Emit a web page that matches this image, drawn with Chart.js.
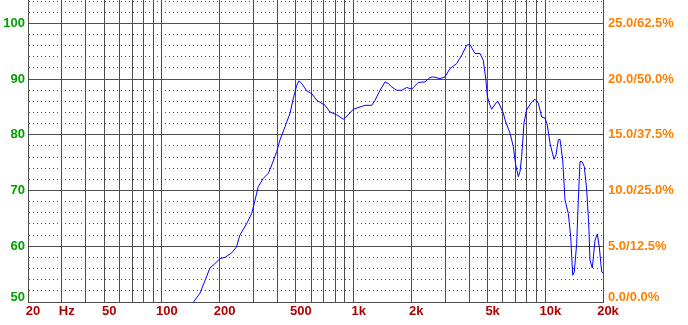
<!DOCTYPE html>
<html>
<head>
<meta charset="utf-8">
<script src="https://cdn.jsdelivr.net/npm/chart.js@4.4.0/dist/chart.umd.min.js"></script>
<style>
  html, body { margin: 0; padding: 0; background: #fff; }
  canvas { display: block; }
</style>
</head>
<body>
<canvas id="response" width="688" height="325"></canvas>
<script>
// measured response, Hz / dB
const freqs = [146, 158, 178, 189, 201, 213, 231, 245, 255, 277,
  294, 306, 318, 338, 359, 374, 397, 413, 439, 466,
  485, 505, 519, 536, 569, 604, 642, 709, 753, 816,
  883, 938, 996, 1080, 1146, 1243, 1293, 1373, 1458, 1517,
  1580, 1678, 1781, 1892, 2008, 2174, 2356, 2502, 2604, 2822,
  2996, 3182, 3450, 3662, 3890, 4046, 4296, 4562, 4746, 4886,
  4992, 5146, 5252, 5578, 5686, 6038, 6162, 6544, 6808, 7008,
  7230, 7378, 7530, 7740, 7996, 8492, 8834, 9192, 9576, 9962,
  10242, 10580, 11100, 11372, 11692, 11930, 12324, 12670, 13182, 13568,
  13900, 14168, 14582, 14866, 15172, 15540, 15976, 16442, 16842, 17108,
  17588, 18168, 18676, 19128, 19686, 20000];
const spl = [50.0, 51.6, 56.1, 56.9, 57.8, 58.0, 58.8, 59.9, 62.0, 64.1,
  65.9, 68.3, 70.7, 72.2, 73.1, 74.6, 77.0, 79.1, 81.5, 83.9,
  86.6, 88.9, 89.7, 89.2, 87.9, 87.4, 86.2, 85.3, 84.1, 83.6,
  82.8, 83.6, 84.6, 85.0, 85.3, 85.3, 86.2, 88.0, 89.5, 89.2,
  88.6, 88.0, 88.0, 88.5, 88.2, 89.4, 89.5, 90.3, 90.4, 90.1,
  90.4, 91.9, 92.8, 94.3, 96.1, 96.2, 94.6, 94.6, 93.4, 90.2,
  86.8, 85.3, 84.6, 85.9, 85.9, 83.9, 82.7, 80.3, 77.9, 74.6,
  72.5, 73.4, 76.1, 82.1, 84.5, 85.9, 86.4, 85.7, 83.2, 83.0,
  81.8, 78.5, 75.6, 76.4, 79.1, 79.2, 75.5, 68.3, 65.9, 61.7,
  54.8, 55.4, 60.5, 68.3, 75.2, 75.2, 74.3, 70.1, 64.1, 57.5,
  56.1, 61.1, 62.2, 59.9, 55.4, 55.2];

const gridFreqs = [20, 30, 40, 50, 60, 70, 80, 90,
  100, 200, 300, 400, 500, 600, 700, 800, 900,
  1000, 2000, 3000, 4000, 5000, 6000, 7000, 8000, 9000,
  10000, 20000];
const freqLabelValues = [20, 30, 50, 100, 200, 500, 1000, 2000, 5000, 10000, 20000];
const freqLabels = ['20', 'Hz', '50', '100', '200', '500', '1k', '2k', '5k', '10k', '20k'];

const dbGrid = [50, 52, 54, 56, 58, 60, 62, 64, 66, 68, 70, 72, 74, 76, 78,
  80, 82, 84, 86, 88, 90, 92, 94, 96, 98, 100, 102, 104];
const dbLabelValues = [50, 60, 70, 80, 90, 100];
const ratioLabels = ['0.0/0.0%', '5.0/12.5%', '10.0/25.0%', '15.0/37.5%', '20.0/50.0%', '25.0/62.5%'];

const FONT = "'Liberation Sans', Arial, sans-serif";
const GRID = '#4d4d4d';

// bottom label sits above the axis line, like the original
function labelFont(ctx) {
    const low = ctx.tick && ctx.tick.value === 50;
    return { family: FONT, size: 13, weight: 'bold', lineHeight: low ? 0.7 : 1.2 };
}

function lift(text, value) {
    return value === 50 ? [text, ''] : text;
}

new Chart(document.getElementById('response'), {
    type: 'line',
    data: {
        datasets: [{
            data: freqs.map((f, i) => ({ x: f, y: spl[i] })),
            borderColor: '#0000ff',
            borderWidth: 1,
            pointRadius: 0,
            tension: 0,
            fill: false
        }]
    },
    options: {
        responsive: false,
        animation: false,
        layout: { padding: 0 },
        plugins: { legend: { display: false }, tooltip: { enabled: false } },
        scales: {
            x: {
                type: 'logarithmic',
                position: 'bottom',
                min: 20,
                max: 20000,
                afterBuildTicks: s => { s.ticks = gridFreqs.map(v => ({ value: v })); },
                afterFit: s => { s.height = 23; s.paddingLeft = 0; s.paddingRight = 0; },
                grid: { color: GRID, lineWidth: 1, drawTicks: false },
                border: { color: GRID },
                ticks: {
                    autoSkip: false,
                    maxRotation: 0,
                    minRotation: 0,
                    padding: 2,
                    labelOffset: 5,
                    color: '#b00000',
                    font: { family: FONT, size: 13, weight: 'bold' },
                    callback: v => {
                        const i = freqLabelValues.indexOf(v);
                        return i < 0 ? '' : freqLabels[i];
                    }
                }
            },
            y: {
                position: 'left',
                min: 50,
                max: 104.2,
                afterBuildTicks: s => { s.ticks = dbGrid.map(v => ({ value: v })); },
                afterFit: s => { s.width = 28; s.paddingTop = 0; s.paddingBottom = 0; },
                grid: { color: GRID, lineWidth: 1, drawTicks: false },
                border: {
                    color: GRID,
                    dash: ctx => (ctx.tick && ctx.tick.value % 10 !== 0) ? [1, 3] : []
                },
                ticks: {
                    autoSkip: false,
                    padding: 3,
                    color: '#00a000',
                    font: labelFont,
                    callback: v => dbLabelValues.includes(v) ? lift(String(v), v) : ''
                }
            },
            y2: {
                position: 'right',
                min: 50,
                max: 104.2,
                afterBuildTicks: s => { s.ticks = dbLabelValues.map(v => ({ value: v })); },
                afterFit: s => { s.width = 85; s.paddingTop = 0; s.paddingBottom = 0; },
                grid: { display: false, drawTicks: false },
                border: { color: GRID },
                ticks: {
                    autoSkip: false,
                    padding: 5,
                    color: '#ff8000',
                    font: labelFont,
                    callback: v => lift(ratioLabels[dbLabelValues.indexOf(v)], v)
                }
            }
        }
    }
});
</script>
</body>
</html>
